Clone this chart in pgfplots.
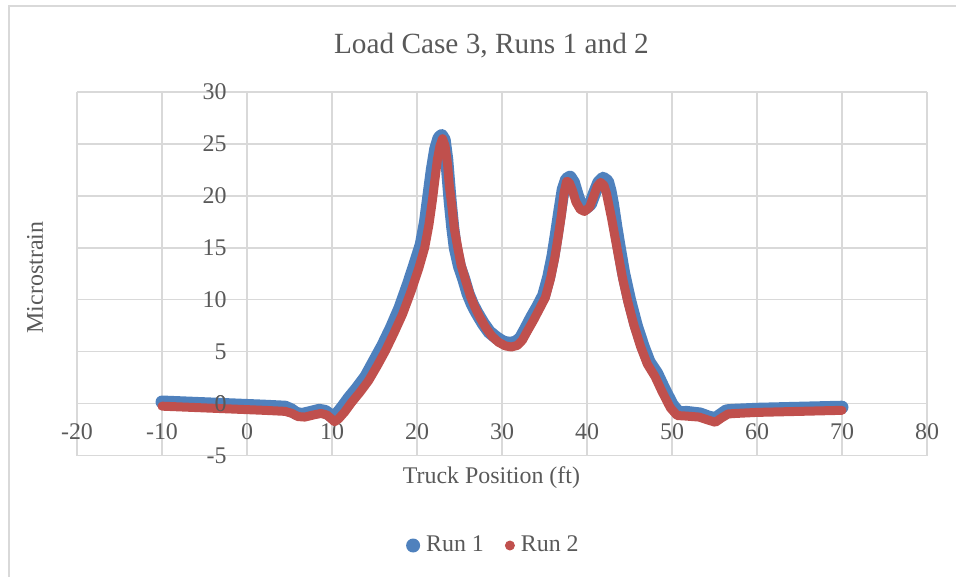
\documentclass[border=0pt]{standalone}
\usepackage{pgfplots}
\usepackage{pgfplotstable}
\pgfplotsset{compat=1.18}
\usepackage{fontspec}
\setmainfont{Liberation Serif}

\definecolor{runone}{HTML}{4F81BD}
\definecolor{runtwo}{HTML}{C0504D}
\definecolor{txt}{HTML}{595959}
\definecolor{gridc}{HTML}{D9D9D9}

\pgfplotsset{
  chartframe/.style={
    at={(38.5bp,-227.75bp)}, anchor=south west,
    width=425bp, height=181.75bp, scale only axis,
    xmin=-20, xmax=80, ymin=-5, ymax=30,
    enlargelimits=false,
    axis lines=middle,
    hide obscured x ticks=false, hide obscured y ticks=false,
    axis line style={-, draw=none},
    major tick length=0pt,
    /pgf/number format/assume math mode=true,
    ticklabel style={font=\fontsize{12}{14}\selectfont, text=txt},
    xticklabel style={anchor=north, inner sep=0pt, yshift=-10bp},
    yticklabel style={anchor=east, inner sep=0pt, xshift=-10bp},
  },
}

% Run 1 (blue)
\pgfplotstableread{
x y
-10 0.15
-7 0.05
-4 -0.05
-1 -0.15
2 -0.25
4.5 -0.35
5.2 -0.6
5.8 -0.95
6.5 -1.05
7.5 -0.85
8.5 -0.65
9.2 -0.75
9.7 -1.05
10.1 -1.3
10.6 -1.0
11.2 -0.4
12 0.5
13 1.5
14 2.6
15 4.1
16 5.6
17 7.3
18 9.2
19 11.5
19.8 13.5
20.5 15.3
21 17.5
21.4 20
21.8 22.5
22.2 24.5
22.6 25.6
22.9 25.8
23.2 25.4
23.5 23.5
23.7 21.5
23.9 19.5
24.2 17.0
24.5 15.0
25 13.2
25.5 12.0
26 10.6
26.5 9.6
27 8.8
27.8 7.7
28.5 6.9
29.4 6.3
30.2 5.9
30.9 5.8
31.6 5.9
32.2 6.3
32.8 7.2
33.5 8.3
34.2 9.3
34.9 10.4
35.5 12.2
36.0 14.2
36.4 16.3
36.8 18.5
37.2 20.6
37.6 21.6
38.0 21.8
38.4 21.3
38.8 20.2
39.2 19.2
39.8 18.8
40.4 19.2
40.9 20.3
41.4 21.3
41.9 21.7
42.4 21.4
42.7 20.5
43.0 19.2
43.4 17.0
43.8 15.0
44.3 12.6
45.0 10.0
45.8 7.5
46.6 5.5
47.3 4.0
48.2 2.9
49.0 1.5
50.0 -0.1
50.8 -0.9
51.7 -0.85
53.3 -1.0
54.3 -1.3
55.1 -1.45
55.7 -1.1
56.4 -0.7
57.2 -0.65
60 -0.55
65 -0.45
70 -0.35
}\runone

% Run 2 (red)
\pgfplotstableread{
x y
-10 -0.25
-7 -0.35
-4 -0.45
-1 -0.55
2 -0.65
4.5 -0.75
5.3 -0.95
6.0 -1.25
6.8 -1.3
7.8 -1.1
8.7 -0.95
9.4 -1.1
9.9 -1.45
10.3 -1.75
10.8 -1.45
11.5 -0.8
12.3 0.1
13.3 1.1
14.3 2.2
15.3 3.6
16.3 5.1
17.3 6.8
18.3 8.6
19.3 10.8
20.2 13.0
20.9 15.0
21.4 17.2
21.8 19.5
22.1 21.5
22.4 23.5
22.7 24.8
23.0 25.5
23.3 24.8
23.6 23.0
23.8 21.0
24.1 19.0
24.4 16.8
24.8 15.0
25.2 13.3
25.7 11.9
26.3 10.3
26.8 9.3
27.4 8.3
28.1 7.3
28.8 6.5
29.6 5.9
30.4 5.55
31.1 5.45
31.8 5.6
32.4 6.1
33.0 7.0
33.7 8.0
34.4 9.1
35.1 10.2
35.7 12.0
36.2 14.0
36.6 16.0
37.0 18.2
37.3 20.3
37.6 21.4
37.9 21.3
38.3 20.5
38.7 19.4
39.2 18.7
39.7 18.5
40.3 18.9
40.8 20.0
41.2 20.9
41.6 21.3
42.0 21.0
42.3 20.2
42.6 19.0
42.9 17.8
43.3 16.0
43.7 14.2
44.2 12.0
44.8 9.8
45.5 7.6
46.3 5.5
47.1 3.8
48.0 2.6
48.8 1.2
49.8 -0.4
50.6 -1.15
51.6 -1.2
53.2 -1.3
54.3 -1.6
55.1 -1.8
55.8 -1.4
56.6 -1.0
57.5 -0.95
60 -0.85
65 -0.75
70 -0.65
}\runtwo

\begin{document}
\begin{tikzpicture}
\begin{axis}[
    chartframe,
    xtick={-20,-10,...,80}, ytick={-5,0,...,30},
    grid=major, major grid style={draw=gridc, line width=0.75bp},
    every axis title shift=0pt,
    title={Load Case 3, Runs 1 and 2},
    title style={at={(rel axis cs:0.4876,1.129)}, anchor=center,
        font=\fontsize{14.7}{17}\selectfont, text=txt},
    xlabel={Truck Position (ft)},
    xlabel style={at={(rel axis cs:0.4876,-0.0605)}, anchor=center,
        font=\fontsize{12}{14}\selectfont, text=txt},
    ylabel={Microstrain},
    ylabel style={at={(rel axis cs:-0.0494,0.4897)}, anchor=center, rotate=90,
        font=\fontsize{12}{14}\selectfont, text=txt},
    legend columns=2,
    legend style={at={(rel axis cs:0.4905,-0.2476)}, anchor=center,
        draw=none, fill=none, font=\fontsize{12}{14}\selectfont, text=txt,
        nodes={inner sep=1.5bp},
        /tikz/every odd column/.append style={column sep=1.5bp},
        /tikz/every even column/.append style={column sep=9bp}},
]
\addplot[runone, line width=6.5bp, line cap=round, line join=round,
    legend image code/.code={\fill[runone, draw=none, line width=0pt] (0bp,0bp) circle (3.5bp);}]
    table {\runone};
\addlegendentry{Run 1}
\addplot[runtwo, line width=4.5bp, line cap=round, line join=round,
    legend image code/.code={\fill[runtwo, draw=none, line width=0pt] (0bp,0bp) circle (2.5bp);}]
    table {\runtwo};
\addlegendentry{Run 2}
\end{axis}
% the vertical axis's "0" is set over the data
\begin{axis}[chartframe, xtick=\empty, ytick={0}]
\end{axis}
\draw[gridc, line width=0.75bp] (4.6bp,-3bp) rectangle (495bp,-300bp);
\pgfresetboundingbox
\path (0bp,0bp) rectangle (478bp,-288.5bp);
\end{tikzpicture}
\end{document}
